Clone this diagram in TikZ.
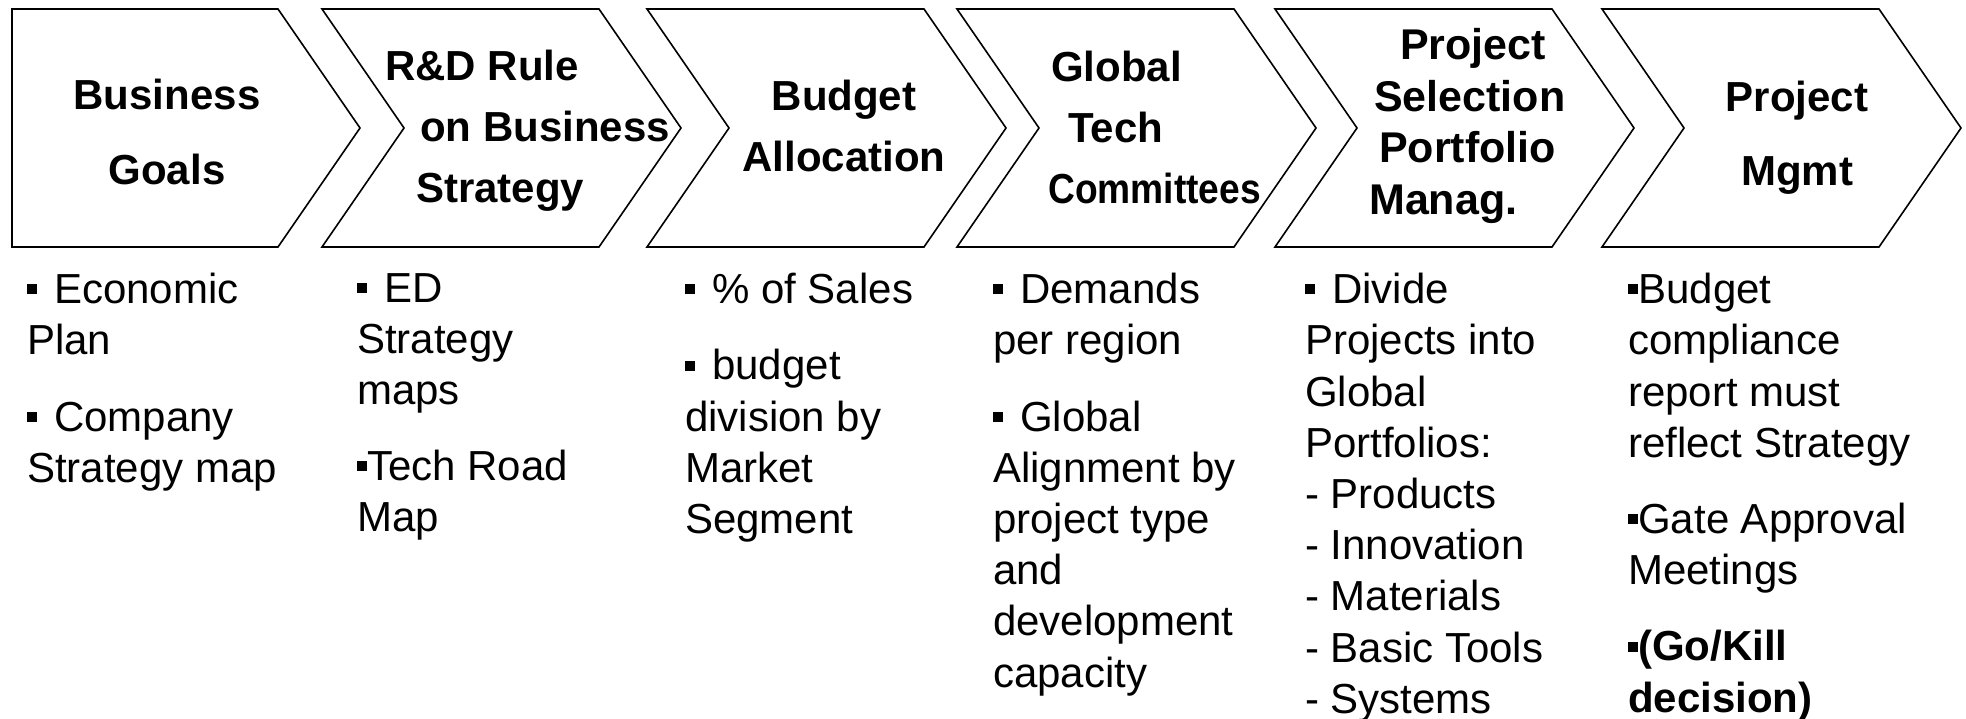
\documentclass[tikz,border=0pt]{standalone}
\usepackage{fontspec}
\setmainfont{Liberation Sans}
\usetikzlibrary{positioning}
\newcommand{\sqbul}{\rule[0.22em]{0.24em}{0.24em}}
\newcommand{\sqitem}{\sqbul\hspace{17pt}}
\tikzset{stage/.style={draw, line width=1.6pt, line join=miter},
         head/.style={font=\bfseries\fontsize{42}{61}\selectfont, inner sep=0pt},
         note/.style={font=\fontsize{42}{51.2}\selectfont, align=left, anchor=north west, inner sep=0pt}}
\begin{document}
\begin{tikzpicture}[x=1pt, y=-1pt]
    \useasboundingbox (0,0) rectangle (1966,719);
    % first stage has a flat back
    \draw[stage] (12,9) -- (278,9) -- (360,128) -- (278,247) -- (12,247) -- cycle;
    \foreach \l in {322,647,957,1275,1602}
        \draw[stage] (\l,9) -- ++(277,0) -- ++(82,119) -- ++(-82,119) -- ++(-277,0) -- ++(82,-119) -- cycle;

    \node[head, align=center, font=\bfseries\fontsize{42}{75}\selectfont] (goals) at (167,132) {Business\\Goals};
    \node[head, align=left, anchor=west] (rule) at (385,131) {R\&D Rule\\\hspace*{35pt}on Business\\\hspace*{31pt}Strategy};
    \node[head, align=center] (budget) at (844,126) {Budget\\Allocation};
    \node[head, align=left, anchor=west] (tech) at (1048,127) {\hspace*{3pt}Global\\\hspace*{20pt}Tech\\\scalebox{0.885}[1]{Committees}};
    \node[head, align=left, anchor=west, font=\bfseries\fontsize{43}{51.5}\selectfont] (select) at (1369,126) {\hspace*{31pt}Project\\\hspace*{5pt}Selection\\\hspace*{10pt}Portfolio\\Manag.};
    \node[head, align=center, font=\bfseries\fontsize{42}{74}\selectfont] (mgmt) at (1797,138) {Project\\Mgmt};

    \node[note] (goalsnote) at (27,273) {\sqitem Economic\\Plan\\[25pt]\sqitem Company\\Strategy map};
    \node[note] (rulenote) at (357,273) {\sqitem ED\\Strategy\\maps\\[25pt]\sqbul Tech Road\\Map};
    \node[note] (budgetnote) at (685,273) {\sqitem \% of Sales\\[25pt]\sqitem budget\\division by\\Market\\Segment};
    \node[note] (technote) at (993,273) {\sqitem Demands\\per region\\[25pt]\sqitem Global\\Alignment by\\project type\\and\\development\\capacity};
    \node[note] (selectnote) at (1305,273) {\sqitem Divide\\Projects into\\Global\\Portfolios:\\- Products\\- Innovation\\- Materials\\- Basic Tools\\- Systems};
    \node[note] (mgmtnote) at (1628,273) {\sqbul Budget\\compliance\\report must\\reflect Strategy\\[25pt]\sqbul Gate Approval\\Meetings\\[25pt]\sqbul\textbf{(Go/Kill}\\\textbf{decision)}};
\end{tikzpicture}
\end{document}
